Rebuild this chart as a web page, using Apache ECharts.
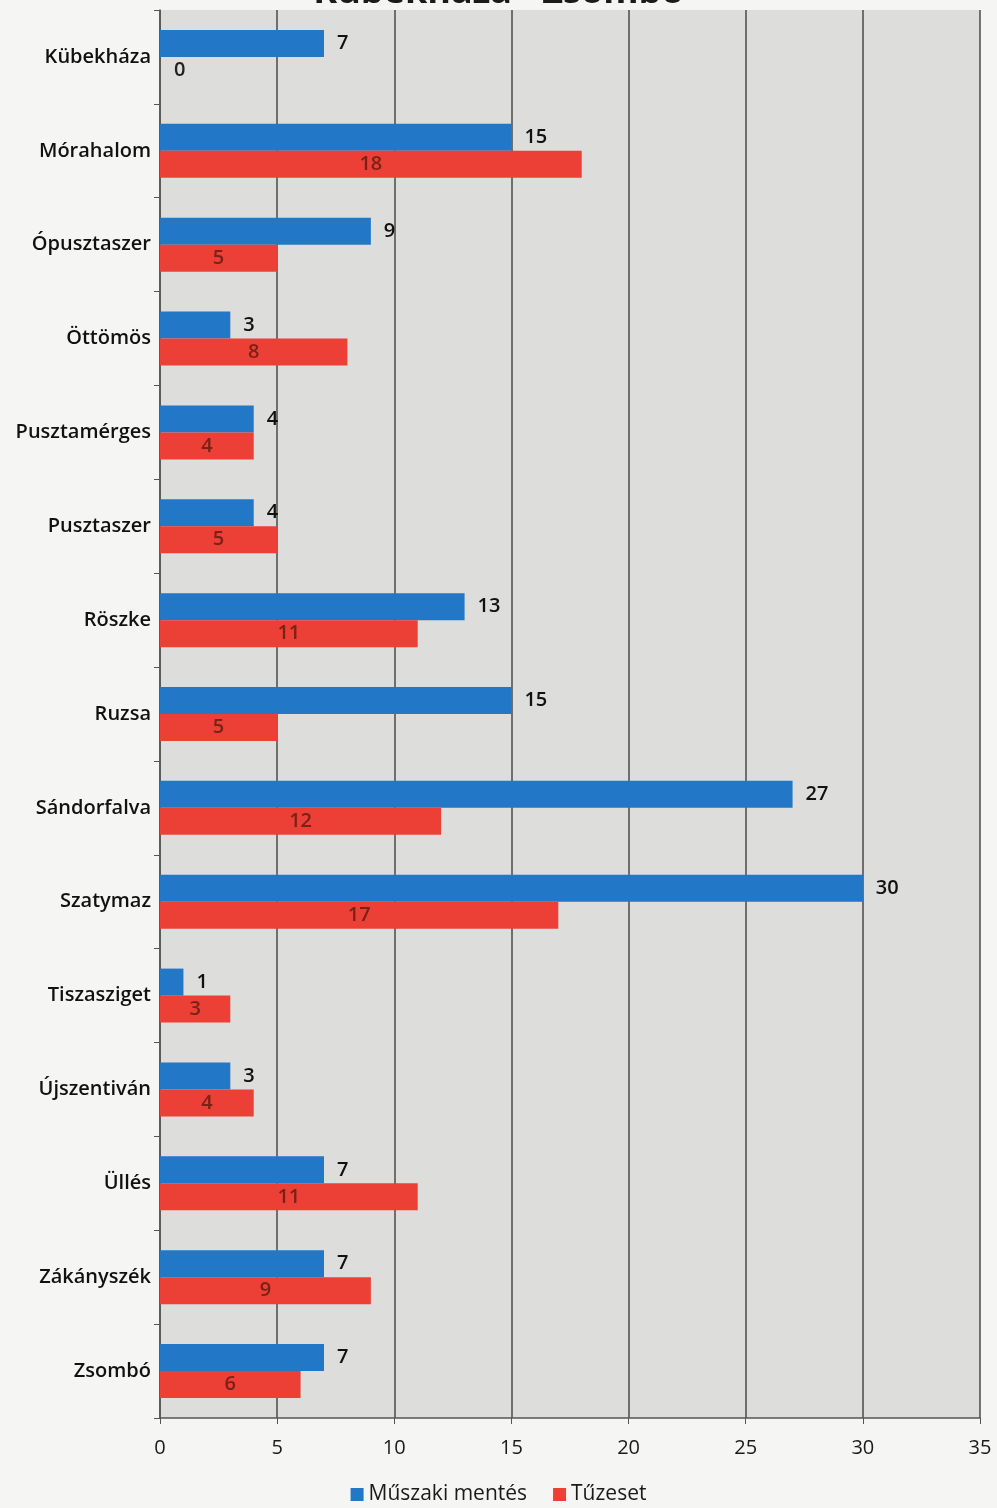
<!DOCTYPE html>
<html>
<head>
<meta charset="utf-8">
<script src="https://cdn.jsdelivr.net/npm/echarts@6/dist/echarts.min.js"></script>
<style>
html,body{margin:0;padding:0;background:#f5f5f3;}
#chart{width:997px;height:1508px;}
</style>
</head>
<body>
<div id="chart"></div>
<script>
const titleText = 'Kübekháza - Zsombó';
const categories = ['Kübekháza','Mórahalom','Ópusztaszer','Öttömös','Pusztamérges','Pusztaszer','Röszke','Ruzsa','Sándorfalva','Szatymaz','Tiszasziget','Újszentiván','Üllés','Zákányszék','Zsombó'];
const muszakiMentes = [7,15,9,3,4,4,13,15,27,30,1,3,7,7,7];
const tuzeset = [0,18,5,8,4,5,11,5,12,17,3,4,11,9,6];
const seriesNames = ['Műszaki mentés','Tűzeset'];
const xTicks = [0,5,10,15,20,25,30,35];

const font = '"Open Sans", "DejaVu Sans", sans-serif';
const chart = echarts.init(document.getElementById('chart'));
chart.setOption({
  backgroundColor: '#f5f5f3',
  animation: false,
  title: {
    text: titleText, left: 'center', top: -30,
    textStyle: {fontFamily: font, fontSize: 36, fontWeight: 'bold', color: '#1a1a1a'}
  },
  legend: {
    bottom: -2, left: 'center',
    itemWidth: 13, itemHeight: 13, itemGap: 26,
    icon: 'rect',
    textStyle: {fontFamily: font, fontSize: 21, color: '#1a1a1a'},
    data: seriesNames
  },
  grid: {
    left: 160, right: 17, top: 10, bottom: 90,
    show: true, backgroundColor: '#dddddc', borderWidth: 0
  },
  xAxis: {
    type: 'value', min: xTicks[0], max: xTicks[xTicks.length-1], interval: 5,
    axisLine: {show: true, lineStyle: {color: '#555', width: 1.5}},
    axisTick: {show: true, length: 6, lineStyle: {color: '#555'}},
    axisLabel: {fontFamily: font, fontSize: 20, color: '#1a1a1a', margin: 20},
    splitLine: {show: true, lineStyle: {color: '#4a4a4a', width: 1.5}}
  },
  yAxis: {
    type: 'category', data: categories, inverse: true,
    axisLine: {show: true, lineStyle: {color: '#555', width: 1.5}},
    axisTick: {show: true, length: 6, lineStyle: {color: '#555'}},
    axisLabel: {fontFamily: font, fontSize: 20, fontWeight: 600, color: '#111', margin: 9}
  },
  series: [
    {
      name: seriesNames[0], type: 'bar', data: muszakiMentes,
      barWidth: 27, barGap: '0%',
      itemStyle: {color: '#2277c6'},
      label: {show: true, position: 'right', distance: 13, fontFamily: font, fontSize: 20, fontWeight: 600, color: '#111'}
    },
    {
      name: seriesNames[1], type: 'bar',
      data: tuzeset.map(v => v === 0 ? {value: v, label: {position: 'right', distance: 14, color: '#222'}} : v),
      barWidth: 27,
      itemStyle: {color: '#ec3f36'},
      label: {show: true, position: 'inside', fontFamily: font, fontSize: 20, fontWeight: 600, color: '#7a2216'}
    }
  ]
});
</script>
</body>
</html>
